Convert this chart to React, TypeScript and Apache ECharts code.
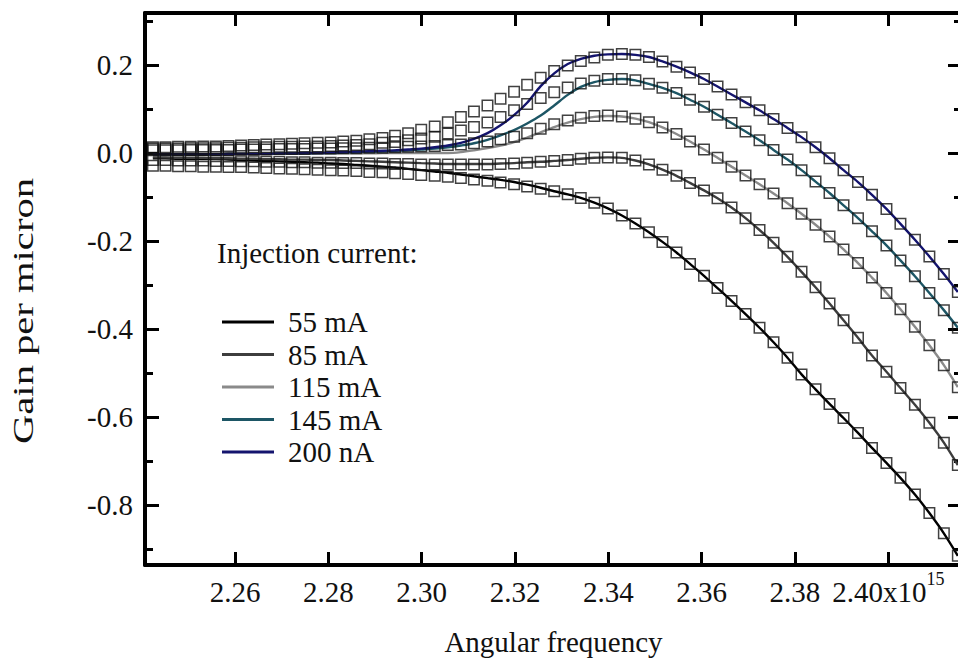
import React, { useEffect, useRef } from "react";
import * as echarts from "echarts";

// Angular frequency (units of 1e15 rad/s), one sample per measured point
const FREQ = [
  2.2424, 2.2451, 2.2478, 2.2505, 2.2532, 2.2559, 2.2586, 2.2613, 2.264, 2.2667,
  2.2695, 2.2722, 2.2749, 2.2777, 2.2805, 2.2832, 2.286, 2.2888, 2.2916, 2.2943,
  2.2971, 2.2999, 2.3028, 2.3056, 2.3084, 2.3112, 2.3141, 2.3169, 2.3198, 2.3226,
  2.3255, 2.3284, 2.3313, 2.3341, 2.337, 2.3399, 2.3429, 2.3458, 2.3487, 2.3516,
  2.3546, 2.3575, 2.3605, 2.3634, 2.3664, 2.3694, 2.3724, 2.3754, 2.3784, 2.3814,
  2.3844, 2.3874, 2.3904, 2.3935, 2.3965, 2.3996, 2.4026, 2.4057, 2.4088, 2.4119,
  2.4149,
];

const SERIES_NAMES = ["55 mA", "85 mA", "115 mA", "145 mA", "200 nA"];
const SERIES_COLORS = ["#000000", "#3d3d3d", "#8a8a8a", "#1d5665", "#14146e"];

// measured points (squares)
const DATA_55 = [
  -0.029, -0.029, -0.03, -0.03, -0.031, -0.031, -0.032, -0.032, -0.033, -0.034,
  -0.035, -0.036, -0.037, -0.038, -0.039, -0.04, -0.041, -0.043, -0.044, -0.046,
  -0.048, -0.05, -0.052, -0.054, -0.057, -0.06, -0.063, -0.067, -0.071, -0.076,
  -0.081, -0.087, -0.094, -0.102, -0.113, -0.126, -0.142, -0.16, -0.18, -0.202,
  -0.226, -0.252, -0.279, -0.307, -0.336, -0.366, -0.397, -0.43, -0.465, -0.503,
  -0.537, -0.57, -0.602, -0.636, -0.67, -0.704, -0.738, -0.776, -0.818, -0.864,
  -0.915,
];
const DATA_85 = [
  -0.016, -0.016, -0.017, -0.017, -0.017, -0.018, -0.018, -0.019, -0.019, -0.02,
  -0.02, -0.021, -0.021, -0.022, -0.022, -0.023, -0.023, -0.024, -0.024, -0.025,
  -0.025, -0.026, -0.026, -0.026, -0.026, -0.026, -0.026, -0.025, -0.024, -0.022,
  -0.02, -0.018, -0.016, -0.013, -0.011, -0.01, -0.011, -0.017, -0.026, -0.038,
  -0.052, -0.068, -0.085, -0.103, -0.124, -0.148, -0.175, -0.204, -0.236, -0.27,
  -0.305, -0.342, -0.38, -0.42, -0.46, -0.497, -0.534, -0.572, -0.613, -0.658,
  -0.709,
];
const DATA_115 = [
  0.006, 0.006, 0.006, 0.007, 0.007, 0.007, 0.007, 0.008, 0.008, 0.008,
  0.009, 0.009, 0.009, 0.01, 0.01, 0.011, 0.011, 0.012, 0.012, 0.013,
  0.014, 0.015, 0.016, 0.018, 0.019, 0.022, 0.026, 0.031, 0.037, 0.045,
  0.055, 0.065, 0.074, 0.08, 0.084, 0.085, 0.083, 0.078, 0.07, 0.058,
  0.043, 0.026, 0.008, -0.011, -0.031, -0.051, -0.071, -0.092, -0.114, -0.138,
  -0.163, -0.19, -0.219, -0.25, -0.283, -0.318, -0.355, -0.395, -0.437, -0.482,
  -0.532,
];
const DATA_145 = [
  0.01, 0.01, 0.01, 0.011, 0.011, 0.011, 0.012, 0.012, 0.013, 0.013,
  0.014, 0.014, 0.015, 0.015, 0.016, 0.017, 0.018, 0.02, 0.023, 0.025,
  0.029, 0.033, 0.037, 0.044, 0.051, 0.059, 0.069, 0.082, 0.097, 0.111,
  0.125, 0.138, 0.149, 0.158, 0.164, 0.168, 0.168, 0.165, 0.157, 0.148,
  0.136, 0.121, 0.105, 0.087, 0.068, 0.049, 0.029, 0.007, -0.015, -0.039,
  -0.065, -0.091, -0.119, -0.148, -0.178, -0.21, -0.244, -0.28, -0.318, -0.357,
  -0.397,
];
const DATA_200 = [
  0.013, 0.013, 0.014, 0.014, 0.015, 0.015, 0.016, 0.017, 0.018, 0.019,
  0.02, 0.021, 0.022, 0.023, 0.024, 0.026, 0.028, 0.031, 0.034, 0.039,
  0.045, 0.053, 0.06, 0.07, 0.082, 0.094, 0.108, 0.123, 0.139, 0.155,
  0.171, 0.186, 0.199, 0.209, 0.217, 0.223, 0.225, 0.223, 0.218, 0.208,
  0.196, 0.183, 0.168, 0.151, 0.133, 0.115, 0.097, 0.077, 0.057, 0.036,
  0.013, -0.012, -0.039, -0.066, -0.095, -0.127, -0.161, -0.197, -0.235, -0.275,
  -0.316,
];

// theoretical curves (lines)
const FIT_55 = [
  -0.012, -0.012, -0.013, -0.013, -0.014, -0.014, -0.015, -0.016, -0.017, -0.018,
  -0.019, -0.02, -0.021, -0.022, -0.024, -0.025, -0.027, -0.029, -0.031, -0.033,
  -0.036, -0.039, -0.042, -0.045, -0.049, -0.053, -0.057, -0.061, -0.066, -0.072,
  -0.079, -0.087, -0.094, -0.102, -0.113, -0.126, -0.142, -0.16, -0.18, -0.202,
  -0.226, -0.252, -0.279, -0.307, -0.336, -0.366, -0.397, -0.43, -0.465, -0.503,
  -0.537, -0.57, -0.602, -0.636, -0.67, -0.704, -0.738, -0.776, -0.818, -0.864,
  -0.915,
];
const FIT_85 = [
  -0.01, -0.01, -0.011, -0.011, -0.011, -0.012, -0.012, -0.013, -0.013, -0.014,
  -0.014, -0.015, -0.015, -0.016, -0.016, -0.017, -0.018, -0.019, -0.02, -0.021,
  -0.022, -0.023, -0.024, -0.025, -0.025, -0.025, -0.025, -0.024, -0.023, -0.021,
  -0.02, -0.018, -0.016, -0.013, -0.011, -0.01, -0.011, -0.017, -0.026, -0.038,
  -0.052, -0.068, -0.085, -0.103, -0.124, -0.148, -0.175, -0.204, -0.236, -0.27,
  -0.305, -0.342, -0.38, -0.42, -0.46, -0.497, -0.534, -0.572, -0.613, -0.658,
  -0.709,
];
const FIT_115 = [
  -0.003, -0.003, -0.003, -0.003, -0.003, -0.003, -0.002, -0.002, -0.002, -0.002,
  -0.002, -0.002, -0.001, -0.001, -0.001, -0.001, -0.001, -0.001, 0.0, 0.0,
  0.0, 0.0, 0.0, 0.0, 0.002, 0.006, 0.011, 0.017, 0.025, 0.035,
  0.047, 0.059, 0.069, 0.077, 0.082, 0.084, 0.083, 0.078, 0.07, 0.058,
  0.043, 0.026, 0.008, -0.011, -0.031, -0.051, -0.071, -0.092, -0.114, -0.138,
  -0.163, -0.19, -0.219, -0.25, -0.283, -0.318, -0.355, -0.395, -0.437, -0.482,
  -0.532,
];
const FIT_145 = [
  -0.003, -0.003, -0.003, -0.003, -0.003, -0.003, -0.002, -0.002, -0.002, -0.002,
  -0.001, -0.001, -0.001, 0.0, 0.0, 0.001, 0.002, 0.003, 0.004, 0.005,
  0.006, 0.008, 0.01, 0.013, 0.017, 0.022, 0.03, 0.04, 0.052, 0.067,
  0.085, 0.108, 0.132, 0.15, 0.161, 0.166, 0.168, 0.165, 0.157, 0.148,
  0.136, 0.121, 0.105, 0.087, 0.068, 0.049, 0.029, 0.007, -0.015, -0.039,
  -0.065, -0.091, -0.119, -0.148, -0.178, -0.21, -0.244, -0.28, -0.318, -0.357,
  -0.397,
];
const FIT_200 = [
  -0.003, -0.003, -0.003, -0.003, -0.003, -0.003, -0.002, -0.002, -0.002, -0.002,
  -0.001, -0.001, 0.0, 0.0, 0.001, 0.002, 0.003, 0.004, 0.005, 0.006,
  0.008, 0.01, 0.013, 0.017, 0.023, 0.032, 0.045, 0.063, 0.086, 0.114,
  0.152, 0.181, 0.202, 0.214, 0.221, 0.224, 0.225, 0.223, 0.218, 0.208,
  0.196, 0.183, 0.168, 0.151, 0.133, 0.115, 0.097, 0.077, 0.057, 0.036,
  0.013, -0.012, -0.039, -0.066, -0.095, -0.127, -0.161, -0.197, -0.235, -0.275,
  -0.316,
];

const X_TICKS = [2.26, 2.28, 2.3, 2.32, 2.34, 2.36, 2.38, 2.4];
const Y_MAJOR = [-0.8, -0.6, -0.4, -0.2, 0, 0.2];
const Y_MINOR = [-0.9, -0.7, -0.5, -0.3, -0.1, 0.1, 0.3];
const X_MIN = 2.24071;
const X_MAX = 2.41579;
const Y_MIN = -0.936;
const Y_MAX = 0.318;

const FONT = "Liberation Serif";
const TEXT = "#111111";

export default function App() {
  const ref = useRef<HTMLDivElement>(null);

  useEffect(() => {
    if (!ref.current) return;
    const chart = echarts.init(ref.current, undefined, { renderer: "svg" });

    const dataSets = [DATA_55, DATA_85, DATA_115, DATA_145, DATA_200];
    const fitSets = [FIT_55, FIT_85, FIT_115, FIT_145, FIT_200];

    const lineSeries = fitSets.map((fit, i) => ({
      type: "line",
      name: SERIES_NAMES[i],
      data: FREQ.map((x, j) => [x, fit[j]]),
      smooth: 0.3,
      showSymbol: false,
      color: SERIES_COLORS[i],
      lineStyle: { color: SERIES_COLORS[i], width: 2.4 },
      z: 3,
    }));
    const pointSeries = dataSets.map((d, i) => ({
      type: "scatter",
      name: SERIES_NAMES[i] + " data",
      data: FREQ.map((x, j) => [x, d[j]]),
      symbol: "rect",
      symbolSize: 10.5,
      itemStyle: {
        color: "rgba(0,0,0,0)",
        borderColor: "#111111",
        borderWidth: 1.5,
      },
      z: 4,
    }));

    const axisLine = { show: true, onZero: false, lineStyle: { color: "#000", width: 4 } };
    const noLine = { show: false, onZero: false };
    const tickStyle = { color: "#000", width: 3 };

    const option: any = {
      animation: false,
      backgroundColor: "#ffffff",
      grid: {
        left: 145,
        right: -4,
        top: 13,
        bottom: 93,
        containLabel: false,
        outerBoundsMode: "none",
      },
      xAxis: [
        {
          type: "value",
          position: "bottom",
          min: X_MIN,
          max: X_MAX,
          axisLine,
          axisTick: { show: true, inside: true, length: 13, lineStyle: tickStyle, customValues: X_TICKS },
          axisLabel: {
            show: true,
            customValues: X_TICKS,
            margin: 5,
            formatter: (v: number) =>
              Math.abs(v - 2.4) < 1e-9 ? "{m|2.40x10}{s|15}" : "{m|" + v.toFixed(2) + "}",
            rich: {
              m: { fontFamily: FONT, fontSize: 29, lineHeight: 44, color: TEXT },
              s: { fontFamily: FONT, fontSize: 18, lineHeight: 18, color: TEXT, verticalAlign: "top" },
            },
          },
          splitLine: { show: false },
          name: "Angular frequency",
          nameLocation: "middle",
          nameGap: 62,
          nameTextStyle: { fontFamily: FONT, fontSize: 29, color: TEXT },
        },
        {
          type: "value",
          position: "top",
          min: X_MIN,
          max: X_MAX,
          axisLine,
          axisTick: { show: true, inside: true, length: 13, lineStyle: tickStyle, customValues: X_TICKS },
          axisLabel: { show: false },
          splitLine: { show: false },
        },
      ],
      yAxis: [
        {
          type: "value",
          position: "left",
          min: Y_MIN,
          max: Y_MAX,
          axisLine,
          axisTick: { show: true, inside: true, length: 14, lineStyle: tickStyle, customValues: Y_MAJOR },
          axisLabel: {
            show: true,
            customValues: Y_MAJOR,
            margin: 12,
            fontFamily: FONT,
            fontSize: 29,
            color: TEXT,
            formatter: (v: number) => v.toFixed(1),
          },
          splitLine: { show: false },
        },
        {
          type: "value",
          position: "left",
          min: Y_MIN,
          max: Y_MAX,
          axisLine: noLine,
          axisTick: { show: true, inside: true, length: 8, lineStyle: tickStyle, customValues: Y_MINOR },
          axisLabel: { show: false },
          splitLine: { show: false },
        },
        {
          type: "value",
          position: "right",
          min: Y_MIN,
          max: Y_MAX,
          axisLine,
          axisTick: { show: true, inside: true, length: 14, lineStyle: tickStyle, customValues: Y_MAJOR },
          axisLabel: { show: false },
          splitLine: { show: false },
        },
        {
          type: "value",
          position: "right",
          min: Y_MIN,
          max: Y_MAX,
          axisLine: noLine,
          axisTick: { show: true, inside: true, length: 8, lineStyle: tickStyle, customValues: Y_MINOR },
          axisLabel: { show: false },
          splitLine: { show: false },
        },
      ],
      legend: {
        orient: "vertical",
        left: 222,
        top: 307,
        padding: 0,
        itemGap: 2.5,
        itemWidth: 52,
        itemHeight: 3,
        icon: "rect",
        selectedMode: false,
        data: SERIES_NAMES,
        textStyle: { fontFamily: FONT, fontSize: 29, color: TEXT, lineHeight: 30, padding: [0, 0, 0, 9] },
      },
      graphic: [
        {
          type: "text",
          left: 217,
          top: 238,
          style: { text: "Injection current:", font: '29px "Liberation Serif"', fill: TEXT },
        },
        {
          type: "text",
          x: 24,
          y: 311,
          rotation: Math.PI / 2,
          scaleX: 1.4,
          style: {
            text: "Gain per micron",
            font: '29px "Liberation Serif"',
            fill: TEXT,
            textAlign: "center",
            textVerticalAlign: "middle",
          },
        },
      ],
      series: [...lineSeries, ...pointSeries],
    };

    chart.setOption(option);
    return () => chart.dispose();
  }, []);

  return (
    <div
      ref={ref}
      style={{ position: "fixed", left: 0, top: 0, width: 958, height: 658, background: "#fff" }}
    />
  );
}
